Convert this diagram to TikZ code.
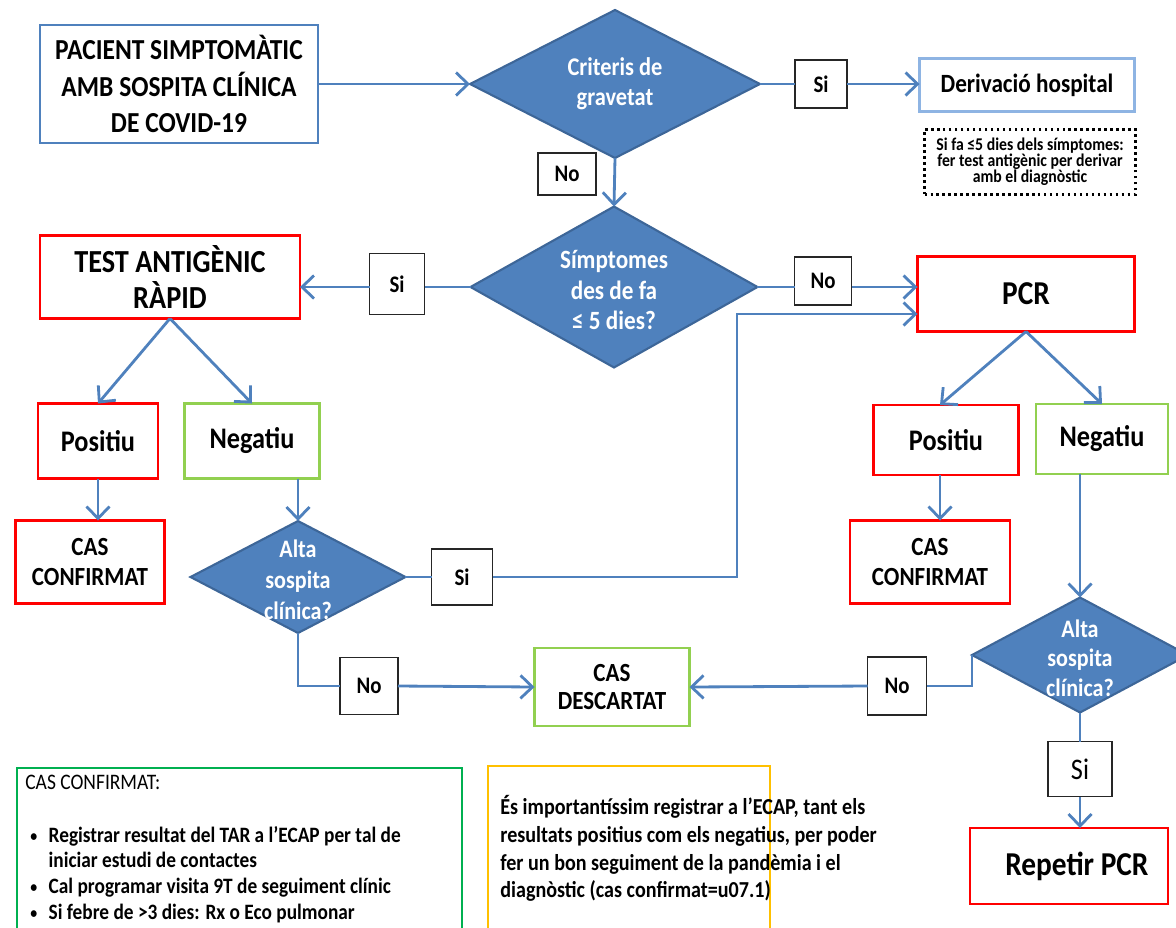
\documentclass[tikz,border=0pt]{standalone}
\usepackage{fontspec}
\setmainfont{Carlito}[FakeStretch=0.88]
\usetikzlibrary{arrows.meta,shapes.geometric,calc}
\definecolor{lineblue}{HTML}{4F81BD}
\definecolor{diablue}{HTML}{4F81BD}
\definecolor{diaedge}{HTML}{3D6698}
\definecolor{boxblue}{HTML}{4F81BD}
\definecolor{lightblue}{HTML}{8EB4E3}
\definecolor{lgreen}{HTML}{92D050}
\definecolor{dgreen}{HTML}{00B050}
\definecolor{orangeY}{HTML}{FFC000}
\newcommand{\smallbul}{{\fontsize{9}{10}\selectfont\raisebox{0.5pt}{•}}}
\tikzset{
  box/.style={draw, line width=1.6pt, inner sep=0pt, outer sep=0pt, align=center, font=\bfseries},
  bluebox/.style={box, draw=boxblue},
  redbox/.style={box, draw=red},
  greenbox/.style={box, draw=lgreen},
  lbl/.style={draw=black!85, line width=0.8pt, fill=white, inner sep=0pt, outer sep=0pt, font=\fontsize{13.5}{16}\selectfont\bfseries},
  dia/.style={diamond, draw=diaedge, fill=diablue, line width=1.2pt, inner sep=0pt, outer sep=0pt},
  ditext/.style={text=white, align=center, inner sep=0pt},
  conn/.style={draw=lineblue, line width=1.6pt},
  arr/.style={conn, -{Straight Barb[length=2.4mm,width=4.6mm]}},
}
\begin{document}
\begin{tikzpicture}[x=0.02cm,y=-0.02cm]
\useasboundingbox (0,0) rectangle (1176,927);

% top row
\node[bluebox, minimum width=5.56cm, minimum height=2.36cm, font=\fontsize{16.5}{21}\selectfont\bfseries] (box1) at (179,84) {PACIENT SIMPTOMÀTIC\\AMB SOSPITA CLÍNICA\\DE COVID-19};
\node[dia, minimum width=5.8cm, minimum height=2.96cm] (d1) at (615,84) {};
\node[ditext, font=\fontsize{14.5}{17}\selectfont\bfseries] (d1t) at (d1) {Criteris de\\gravetat};
\node[lbl, minimum width=1.04cm, minimum height=0.96cm] (siA) at (821,84) {Si};
\node[box, draw=lightblue, minimum width=4.3cm, minimum height=1.06cm, font=\fontsize{15}{18}\selectfont\bfseries] (der) at (1027,85) {Derivació hospital};
\node[draw, dotted, line width=1.4pt, minimum width=4.22cm, minimum height=1.3cm, inner sep=0pt, align=center, font=\fontsize{10.2}{9.2}\selectfont\bfseries] (dot) at (1030,162) {Si fa ≤5 dies dels símptomes:\\fer test antigènic per derivar\\amb el diagnòstic};
\node[lbl, minimum width=1.16cm, minimum height=0.84cm] (noA) at (567,174) {No};

% second row
\node[dia, minimum width=5.74cm, minimum height=3.22cm] (d2) at (614,287) {};
\node[ditext, font=\fontsize{15}{17.5}\selectfont\bfseries] (d2t) at (614,290) {Símptomes\\des de fa\\≤ 5 dies?};
\node[redbox, minimum width=5.2cm, minimum height=1.66cm, font=\fontsize{18.3}{20}\selectfont\bfseries] (tar) at (170,277) {TEST ANTIGÈNIC\\RÀPID};
\node[lbl, minimum width=1.1cm, minimum height=1.22cm] (siB) at (397,284) {Si};
\node[lbl, minimum width=1.14cm, minimum height=0.96cm] (noB) at (823,281) {No};
\node[redbox, minimum width=4.34cm, minimum height=1.5cm, font=\fontsize{19}{22}\selectfont\bfseries] (pcr) at (1026,294) {PCR};
\coordinate (turnA) at (737,314);

% third row
\node[redbox, minimum width=2.4cm, minimum height=1.5cm, font=\fontsize{17}{18}\selectfont\bfseries] (pos1) at (98,441) {Positiu};
\node[greenbox, minimum width=2.7cm, minimum height=1.5cm, font=\fontsize{17}{18}\selectfont\bfseries] (neg1) at (252,441) {Negatiu};
\node[redbox, minimum width=2.9cm, minimum height=1.4cm, font=\fontsize{17}{18}\selectfont\bfseries] (pos2) at (946,440) {Positiu};
\node[greenbox, minimum width=2.64cm, minimum height=1.4cm, font=\fontsize{17}{18}\selectfont\bfseries] (neg2) at (1102,439) {Negatiu};

% fourth row
\node[redbox, minimum width=2.98cm, minimum height=1.66cm, font=\fontsize{14.9}{17}\selectfont\bfseries] (cc1) at (90,562) {CAS\\CONFIRMAT};
\node[redbox, minimum width=3.2cm, minimum height=1.66cm, font=\fontsize{14.9}{17}\selectfont\bfseries] (cc2) at (930,562) {CAS\\CONFIRMAT};
\node[dia, minimum width=4.3cm, minimum height=2.24cm] (d3) at (298,577) {};
\node[ditext, font=\fontsize{14.3}{17.5}\selectfont\bfseries] (d3t) at (298,580) {Alta\\sospita\\clínica?};
\node[lbl, minimum width=1.22cm, minimum height=1.12cm] (siC) at (462,577) {Si};
\node[dia, minimum width=4.32cm, minimum height=2.3cm] (d4) at (1080,655) {};
\node[ditext, font=\fontsize{14.3}{16.8}\selectfont\bfseries] (d4t) at (1080,658) {Alta\\sospita\\clínica?};

% fifth row
\node[greenbox, minimum width=3.1cm, minimum height=1.56cm, font=\fontsize{14.9}{16}\selectfont\bfseries] (desc) at (612,687) {CAS\\DESCARTAT};
\node[lbl, minimum width=1.16cm, minimum height=1.14cm] (noC) at (369,686) {No};
\node[lbl, minimum width=1.18cm, minimum height=1.16cm] (noD) at (897,686) {No};
\node[lbl, minimum width=1.28cm, minimum height=1.1cm, font=\fontsize{17}{20}\selectfont] (siD) at (1080,769) {Si};
\node[redbox, minimum width=3.96cm, minimum height=1.52cm, font=\fontsize{19}{22}\selectfont\bfseries] (rep) at (1069,866) {\hspace*{9pt}Repetir PCR};

% bottom notes
\draw[dgreen, line width=1pt] (17,768) rectangle (462,940);
\node[anchor=north west, inner sep=0pt, align=left, font=\fontsize{12.6}{14}\selectfont] (gh) at (25,775) {CAS CONFIRMAT:};
\node[anchor=north west, inner sep=0pt, align=left, font=\fontsize{12.5}{14.6}\selectfont\bfseries] (gt) at (30,824)
 {\begin{tabular}{@{}l@{\hspace{6.5pt}}l@{}}
 \smallbul & Registrar resultat del TAR a l’ECAP per tal de\\
   & iniciar estudi de contactes\\
 \smallbul & Cal programar visita 9T de seguiment clínic\\
 \smallbul & Si febre de >3 dies: Rx o Eco pulmonar
 \end{tabular}};
\draw[orangeY, line width=1.4pt] (488,766) rectangle (770,940);
\node[anchor=north west, inner sep=0pt, align=left, font=\fontsize{13}{15.8}\selectfont\bfseries] (ot) at (500,795)
 {És importantíssim registrar a l’ECAP, tant els\\resultats positius com els negatius, per poder\\fer un bon seguiment de la pandèmia i el\\diagnòstic (cas confirmat=u07.1)};

% connectors
\draw[arr] (box1.east) -- (d1.west);
\draw[conn] (d1.east) -- (siA.west);
\draw[arr] (siA.east) -- (siA.east -| der.west);
\draw[arr] (d1.south) -- (d2.north);
\draw[conn] (d2.west) -- (d2.west -| siB.east);
\draw[arr] (d2.west -| siB.west) -- (d2.west -| tar.east);
\draw[conn] (d2.east) -- (d2.east -| noB.west);
\draw[arr] (d2.east -| noB.east) -- (d2.east -| pcr.west);
\draw[arr] (tar.south) -- (pos1.north);
\draw[arr] (tar.south) -- (neg1.north);
\draw[arr] (pos1.south) -- (pos1.south |- cc1.north);
\draw[arr] (d3.north |- neg1.south) -- (d3.north);
\draw[conn] (d3.east) -- (siC.west);
\draw[arr] (siC.east) -| (turnA) -- (turnA -| pcr.west);
\draw[conn] (d3.south) |- (noC.west);
\draw[arr] (noC.east) -- (desc.west);
\draw[arr] (pcr.south) -- (pos2.north -| 940,0);
\draw[arr] (pcr.south) -- (neg2.north);
\draw[arr] (pos2.south -| 940,0) -- (cc2.north -| 940,0);
\draw[arr] (d4.north |- neg2.south) -- (d4.north);
\draw[conn] (d4.west) |- (noD.east);
\draw[arr] (noD.west) -- (desc.east);
\draw[conn] (d4.south) -- (siD.north);
\draw[arr] (siD.south) -- (siD.south |- rep.north);
\end{tikzpicture}
\end{document}
